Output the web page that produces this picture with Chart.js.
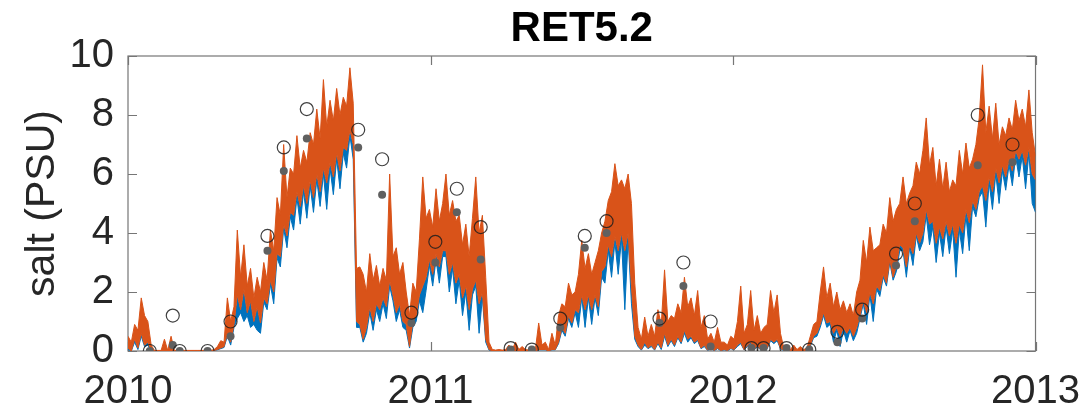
<!DOCTYPE html>
<html>
<head>
<meta charset="utf-8">
<script src="https://cdn.jsdelivr.net/npm/chart.js@4.4.1/dist/chart.umd.min.js"></script>
<style>
  html, body { margin: 0; padding: 0; background: #fff; }
  #wrap { width: 1089px; height: 412px; }
</style>
</head>
<body>
<div id="wrap"><canvas id="saltChart"></canvas></div>
<script>
// RET5.2 salinity, 2010-2013: two model runs (tidal band) + observations

const yearTicks = [2010, 2011, 2012, 2013];
const saltTicks = [0, 2, 4, 6, 8, 10];

// model output, tidal max/min every 4 days from 1 Jan 2010
const sampleStart = 2010;
const sampleStepDays = 4;
const daysPerYear = 365.33;

const runBHigh = [ // orange run, upper envelope
  0.5, 0.3, 0.9, 0.7, 1.8, 1.2, 1.0, 0.2, 0.02, 0.02,
  0.02, 0.4, 0.02, 0.5, 0.02, 0.02, 0.02, 0.02, 0.02, 0.02,
  0.02, 0.02, 0.02, 0.02, 0.02, 0.02, 0.05, 0.15, 0.35, 0.3,
  1.8, 1.0, 1.5, 4.1, 2.5, 3.6, 2.2, 2.8, 1.8, 2.5,
  2.0, 3.0, 2.4, 4.1, 3.4, 5.2, 4.6, 7.0, 5.2, 6.2,
  6.0, 7.3, 6.2, 6.8, 6.4, 7.4, 7.0, 8.2, 7.2, 9.2,
  7.6, 8.5, 7.8, 8.9, 8.0, 8.6, 8.3, 9.6, 8.4, 2.8,
  2.85, 2.6, 2.0, 3.3, 2.4, 2.9, 2.2, 2.8, 2.4, 6.0,
  3.2, 3.5, 2.6, 3.0, 2.0, 1.2, 2.3, 2.0, 3.8, 5.9,
  4.5, 4.8, 4.2, 5.5, 4.4, 5.0, 6.0, 4.6, 5.1, 4.4,
  4.6, 3.6, 4.3, 3.2, 4.5, 5.9, 4.0, 4.6, 2.5, 0.3,
  0.05, 0.03, 0.05, 0.03, 0.05, 0.2, 0.05, 0.3, 0.05, 0.15,
  0.05, 0.03, 0.1, 0.05, 0.95, 0.2, 0.3, 0.05, 0.6, 0.2,
  1.2, 1.6, 1.5, 2.3, 1.9, 2.0, 2.6, 3.75, 2.8, 3.3,
  2.6, 3.0, 3.4, 4.0, 4.4, 5.1, 5.4, 6.35, 5.6, 5.8,
  5.5, 6.0, 5.0, 2.3, 0.8, 0.4, 1.15, 0.5, 0.9, 0.5,
  1.4, 0.9, 2.75, 1.0, 1.2, 1.1, 1.6, 1.3, 2.5, 1.5,
  1.8, 1.2, 2.05, 0.8, 1.2, 0.4, 0.6, 0.3, 0.8, 0.3,
  0.3, 0.2, 0.5, 0.4, 1.0, 2.2, 0.6, 0.9, 2.05, 0.7,
  1.2, 0.6, 0.8, 0.9, 2.05, 1.3, 1.9, 0.6, 0.1, 0.05,
  0.05, 0.2, 0.05, 0.15, 0.05, 0.1, 0.5, 0.9, 1.0, 2.0,
  2.85, 1.8, 2.3, 1.5, 2.0, 1.4, 1.7, 1.3, 1.6, 1.2,
  2.0, 2.4, 3.75, 3.0, 4.2, 3.4, 3.5, 3.6, 4.3, 4.0,
  5.2, 4.4, 4.8, 5.0, 5.9, 5.0, 5.35, 5.6, 6.4, 6.0,
  6.8, 7.9, 6.3, 6.9, 5.6, 6.5, 5.5, 6.4, 5.4, 5.8,
  5.6, 6.8, 6.0, 7.05, 6.2, 6.5, 7.0, 7.9, 9.7, 7.4,
  8.3, 7.2, 8.4, 7.0, 7.6, 7.3, 7.9, 7.5, 8.5, 7.8,
  8.2, 7.6, 8.85, 7.4, 6.6
];

const runBLow = [ // orange run, lower envelope
  0.1, 0.0, 0.4, 0.1, 0.6, 0.2, 0.3, 0.0, 0.0, 0.0,
  0.0, 0.0, 0.0, 0.0, 0.0, 0.0, 0.0, 0.0, 0.0, 0.0,
  0.0, 0.0, 0.0, 0.0, 0.0, 0.0, 0.02, 0.05, 0.1, 0.15,
  0.6, 0.3, 0.9, 1.9, 1.4, 2.1, 1.3, 1.7, 1.0, 1.5,
  0.95, 1.8, 1.6, 2.4, 2.0, 3.3, 3.2, 4.3, 3.9, 4.7,
  4.6, 5.4, 4.9, 5.6, 5.0, 5.8, 5.2, 6.0, 5.4, 6.2,
  5.7, 6.4, 5.9, 6.7, 6.1, 6.9, 6.8, 7.5, 7.0, 1.0,
  0.9, 0.4, 0.8, 1.5, 1.0, 1.6, 1.4, 1.8, 1.5, 2.4,
  1.9, 1.3, 1.6, 1.0, 0.9, 0.15, 1.0, 1.2, 1.9, 2.2,
  2.5, 3.1, 2.6, 3.3, 2.85, 3.4, 3.4, 2.6, 3.0, 2.3,
  2.6, 1.8, 2.2, 1.4, 2.1, 2.4, 1.6, 2.0, 0.4, 0.05,
  0.0, 0.0, 0.0, 0.0, 0.0, 0.0, 0.0, 0.0, 0.0, 0.0,
  0.0, 0.0, 0.0, 0.0, 0.05, 0.05, 0.05, 0.0, 0.05, 0.05,
  0.3, 0.8, 0.6, 1.2, 0.95, 1.4, 1.3, 1.9, 1.4, 1.9,
  1.4, 1.9, 1.5, 2.7, 2.85, 3.6, 3.2, 3.9, 3.4, 4.0,
  3.4, 4.0, 2.2, 0.5, 0.2, 0.05, 0.3, 0.1, 0.2, 0.05,
  0.3, 0.1, 0.6, 0.2, 0.4, 0.2, 0.5, 0.3, 0.7, 0.4,
  0.5, 0.3, 0.4, 0.1, 0.2, 0.03, 0.1, 0.02, 0.1, 0.02,
  0.05, 0.02, 0.1, 0.05, 0.2, 0.3, 0.05, 0.2, 0.3, 0.05,
  0.2, 0.05, 0.1, 0.1, 0.4, 0.3, 0.4, 0.1, 0.02, 0.01,
  0.01, 0.01, 0.01, 0.01, 0.01, 0.02, 0.2, 0.5, 0.6, 0.9,
  1.3, 0.95, 1.0, 0.6, 0.8, 0.5, 0.8, 0.6, 0.8, 0.5,
  0.8, 1.2, 1.7, 1.3, 2.0, 1.6, 2.2, 2.05, 2.6, 2.3,
  3.1, 2.5, 2.9, 3.6, 3.5, 2.85, 3.6, 3.3, 4.0, 3.65,
  4.0, 4.8, 4.3, 4.4, 3.65, 4.2, 3.8, 4.4, 3.9, 4.3,
  3.65, 4.3, 4.0, 4.8, 4.35, 5.1, 4.8, 5.4, 5.6, 5.1,
  5.9, 5.4, 6.2, 5.7, 6.3, 5.9, 6.5, 6.1, 6.8, 6.5,
  6.8, 6.3, 6.9, 6.0, 5.8
];

const runALow = [ // blue run, lower envelope (upper part lies under the orange band)
  0.05, 0.0, 0.3, 0.05, 0.5, 0.15, 0.2, 0.0, 0.0, 0.0,
  0.0, 0.0, 0.0, 0.0, 0.0, 0.0, 0.0, 0.0, 0.0, 0.0,
  0.0, 0.0, 0.0, 0.0, 0.0, 0.0, 0.02, 0.04, 0.08, 0.12,
  0.5, 0.2, 0.8, 1.1, 1.3, 1.0, 1.2, 0.8, 0.9, 0.7,
  0.6, 1.65, 1.4, 2.25, 1.6, 3.15, 2.85, 4.15, 3.5, 4.55,
  4.1, 5.2, 4.3, 5.4, 4.5, 5.6, 4.7, 5.8, 4.9, 6.0,
  4.8, 6.2, 5.3, 6.5, 5.5, 6.7, 6.2, 7.3, 6.5, 0.8,
  0.8, 0.3, 0.6, 1.3, 0.7, 1.4, 1.0, 1.6, 1.1, 2.2,
  1.7, 1.0, 1.4, 0.8, 0.7, 0.1, 0.8, 1.0, 1.7, 1.3,
  2.05, 2.9, 2.2, 3.1, 2.3, 3.2, 3.2, 2.0, 2.8, 1.6,
  2.4, 1.2, 2.0, 0.7, 1.9, 2.2, 0.6, 1.8, 0.3, 0.03,
  0.0, 0.0, 0.0, 0.0, 0.0, 0.0, 0.0, 0.0, 0.0, 0.0,
  0.0, 0.0, 0.0, 0.0, 0.04, 0.04, 0.04, 0.0, 0.04, 0.04,
  0.25, 0.7, 0.5, 1.1, 0.8, 1.3, 0.8, 1.8, 0.8, 1.8,
  0.9, 1.8, 1.2, 2.5, 2.3, 3.4, 2.5, 3.7, 2.6, 3.8,
  1.4, 3.8, 1.6, 0.4, 0.15, 0.03, 0.2, 0.08, 0.15, 0.03,
  0.25, 0.05, 0.5, 0.15, 0.35, 0.15, 0.45, 0.25, 0.6, 0.3,
  0.45, 0.25, 0.35, 0.08, 0.15, 0.02, 0.08, 0.01, 0.08, 0.01,
  0.04, 0.01, 0.08, 0.04, 0.15, 0.25, 0.04, 0.15, 0.25, 0.04,
  0.15, 0.04, 0.08, 0.08, 0.35, 0.25, 0.35, 0.08, 0.01, 0.0,
  0.0, 0.0, 0.0, 0.0, 0.0, 0.01, 0.15, 0.45, 0.5, 0.8,
  1.2, 0.8, 0.9, 0.3, 0.7, 0.15, 0.7, 0.3, 0.7, 0.35,
  0.6, 1.1, 1.6, 0.9, 1.9, 1.0, 2.1, 1.85, 2.5, 2.2,
  3.0, 2.4, 2.7, 3.4, 3.4, 2.5, 3.5, 2.9, 3.9, 3.4,
  3.7, 4.6, 3.6, 4.2, 3.0, 4.0, 3.2, 4.2, 3.3, 4.1,
  2.5, 4.1, 3.3, 4.6, 3.4, 4.9, 4.55, 5.2, 5.4, 4.2,
  5.7, 4.8, 6.0, 5.0, 6.1, 5.45, 6.3, 5.6, 6.6, 5.9,
  6.6, 5.5, 6.7, 5.0, 4.7
];

// field samples (decimal year)
const obsTimes = [
  2010.072, 2010.148, 2010.171, 2010.263, 2010.339, 2010.461, 2010.515, 2010.591,
  2010.761, 2010.840, 2010.937, 2011.016, 2011.087, 2011.166, 2011.265, 2011.335,
  2011.429, 2011.510, 2011.582, 2011.757, 2011.836, 2011.926, 2012.061, 2012.101,
  2012.177, 2012.252, 2012.345, 2012.427, 2012.539, 2012.601, 2012.809, 2012.924
];
const obsSurface = [
  0, 1.2, 0, 0, 1.0, 3.9, 6.9, 8.2,
  7.5, 6.5, 1.3, 3.7, 5.5, 4.2, 0.1, 0.05,
  1.1, 3.9, 4.4, 1.1, 3.0, 1.0, 0.1, 0.1,
  0.1, 0.05, 0.65, 1.4, 3.3, 5.0, 8.0, 7.0
];
const obsBottom = [
  0, 0.2, 0, 0, 0.5, 3.4, 6.1, 7.2,
  6.9, 5.3, 0.95, 3.0, 4.7, 3.1, 0.05, 0.05,
  0.8, 3.5, 4.0, 0.95, 2.2, 0.15, 0.1, 0.1,
  0.1, 0.05, 0.3, 1.1, 2.9, 4.4, 6.3, 6.4
];

const toSeries = vals => vals.map((v, i) => ({ x: sampleStart + i * sampleStepDays / daysPerYear, y: v }));
const toObs = vals => vals.map((v, i) => ({ x: obsTimes[i], y: v }));

const matlabBlue = '#0072BD';
const matlabOrange = '#D95319';
const axisGrey = '#767676';
const labelInk = '#262626';
const tickLen = 9;

// MATLAB-style box with inward ticks on all four sides
const boxFrame = {
  id: 'boxFrame',
  beforeDatasetsDraw(chart) {
    const { ctx, chartArea: a, scales: { x, y } } = chart;
    ctx.save();
    ctx.strokeStyle = axisGrey;
    ctx.lineWidth = 1.2;
    ctx.strokeRect(a.left, a.top, a.right - a.left, a.bottom - a.top);
    ctx.beginPath();
    y.ticks.forEach(t => {
      const py = Math.round(y.getPixelForValue(t.value)) + 0.5;
      ctx.moveTo(a.left, py); ctx.lineTo(a.left + tickLen, py);
      ctx.moveTo(a.right, py); ctx.lineTo(a.right - tickLen, py);
    });
    x.ticks.forEach(t => {
      const px = Math.round(x.getPixelForValue(t.value)) + 0.5;
      ctx.moveTo(px, a.bottom); ctx.lineTo(px, a.bottom - tickLen);
      ctx.moveTo(px, a.top); ctx.lineTo(px, a.top + tickLen);
    });
    ctx.stroke();
    ctx.restore();
  }
};

const bandLine = (data, color, fill, order) => ({
  data: toSeries(data),
  showLine: true,
  borderColor: color,
  backgroundColor: color,
  borderWidth: 1,
  pointRadius: 0,
  pointHoverRadius: 0,
  fill,
  order
});

new Chart(document.getElementById('saltChart'), {
  type: 'scatter',
  data: {
    datasets: [
      {
        label: 'obs surface',
        data: toObs(obsSurface),
        pointRadius: 6.5,
        pointHoverRadius: 6.5,
        pointBackgroundColor: 'rgba(0,0,0,0)',
        pointBorderColor: 'rgba(30,30,30,0.85)',
        pointBorderWidth: 1.2,
        order: 0
      },
      {
        label: 'obs bottom',
        data: toObs(obsBottom),
        pointRadius: 4,
        pointHoverRadius: 4,
        pointBackgroundColor: '#606060',
        pointBorderWidth: 0,
        order: 1
      },
      // orange band: high envelope filled down to the low envelope (dataset 3)
      { label: 'run B high', ...bandLine(runBHigh, matlabOrange, 3, 2) },
      { label: 'run B low', ...bandLine(runBLow, matlabOrange, false, 3) },
      // blue run shows as spikes below the orange band
      { label: 'run A low', ...bandLine(runALow, matlabBlue, 3, 4) }
    ]
  },
  options: {
    responsive: true,
    maintainAspectRatio: false,
    animation: false,
    layout: { padding: { left: 0, right: 50, top: 0, bottom: 0 } },
    plugins: {
      legend: { display: false },
      tooltip: { enabled: false },
      title: {
        display: true,
        text: 'RET5.2',
        fullSize: false,
        color: '#000',
        font: { family: 'Liberation Sans', size: 42, weight: 'bold' },
        padding: { top: 4, bottom: 1.6 }
      }
    },
    scales: {
      x: {
        type: 'linear',
        min: 2010,
        max: 2013,
        afterBuildTicks: s => { s.ticks = yearTicks.map(v => ({ value: v })); },
        grid: { display: false },
        border: { display: false },
        ticks: {
          color: labelInk,
          padding: 9,
          maxRotation: 0,
          font: { family: 'Liberation Sans', size: 40 },
          callback: v => String(v)
        },
        afterFit: s => { s.height = 61; }
      },
      y: {
        min: 0,
        max: 10,
        afterBuildTicks: s => { s.ticks = saltTicks.map(v => ({ value: v })); },
        grid: { display: false },
        border: { display: false },
        ticks: {
          color: labelInk,
          padding: 6,
          font: { family: 'Liberation Sans', size: 40 },
          callback: v => String(v)
        },
        title: {
          display: true,
          text: 'salt (PSU)',
          color: labelInk,
          font: { family: 'Liberation Sans', size: 41 },
          padding: { top: 18, bottom: 0 }
        },
        afterFit: s => { s.width = 128; }
      }
    }
  },
  plugins: [boxFrame]
});
</script>
</body>
</html>
